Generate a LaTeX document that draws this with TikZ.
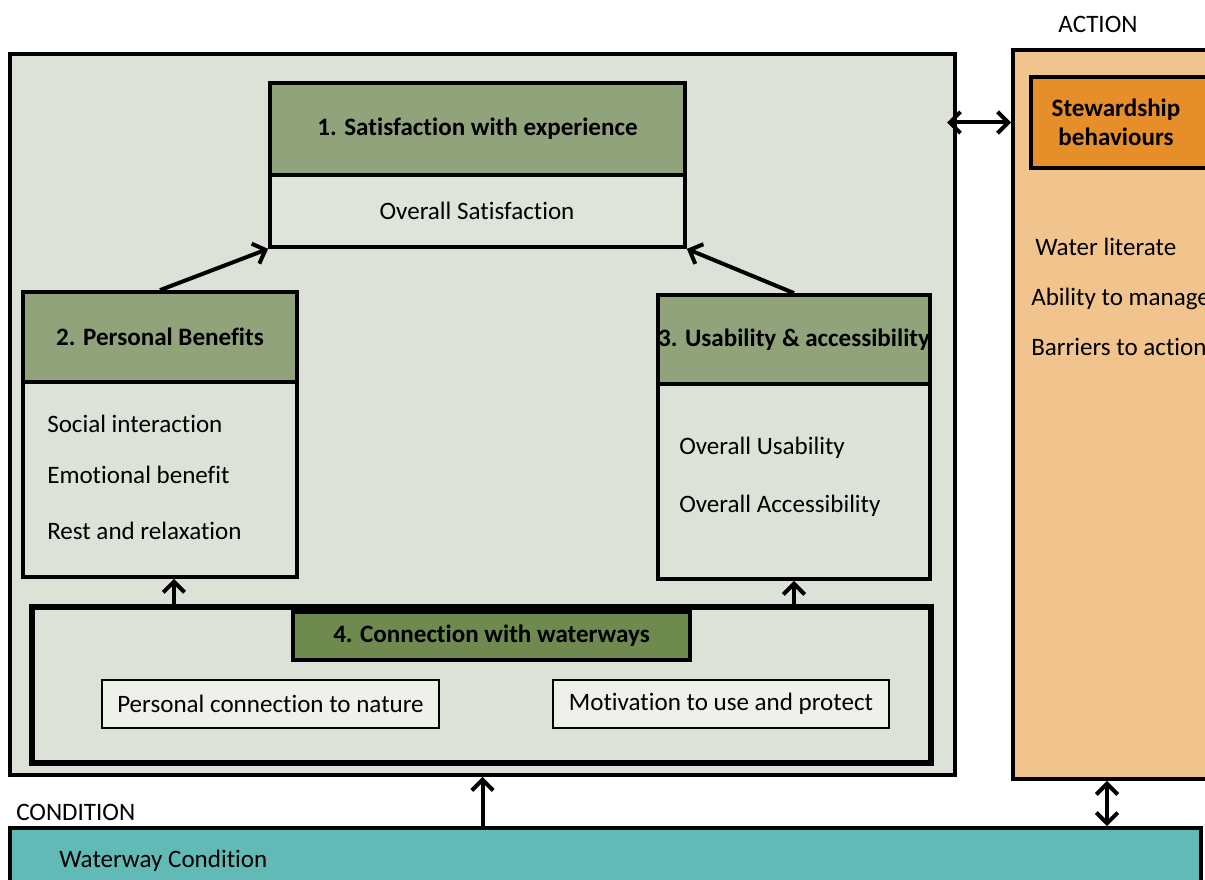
\documentclass[tikz,border=0pt]{standalone}
\usepackage{fontspec}
\setmainfont{Carlito}[Ligatures={NoCommon}]
\usetikzlibrary{fit,arrows.meta,calc}
\definecolor{panel}{HTML}{DCE2D7}
\definecolor{olive}{HTML}{91A37A}
\definecolor{darkolive}{HTML}{6E8A4F}
\definecolor{bodyfill}{HTML}{DFE4DB}
\definecolor{innerfill}{HTML}{EEF0EA}
\definecolor{actionfill}{HTML}{F0C48C}
\definecolor{stewfill}{HTML}{E68F2A}
\definecolor{condfill}{HTML}{62BAB6}
\tikzset{
  frame/.style={draw, line width=2.8pt, inner sep=0pt, rectangle},
  thin frame/.style={draw, line width=1.3pt, inner sep=0pt, rectangle},
  txt/.style={font=\fontsize{18.8}{22}\selectfont, inner sep=0pt},
  ttl/.style={font=\fontsize{18.8}{22}\selectfont\bfseries, inner sep=0pt},
  arr/.style={line width=3pt, -{Straight Barb[length=8pt,width=16pt]}},
  darr/.style={line width=3pt, {Straight Barb[length=8pt,width=16pt]}-{Straight Barb[length=8pt,width=16pt]}}
}
\begin{document}
\begin{tikzpicture}[x=0.75pt,y=-0.75pt]
\useasboundingbox (0,0) rectangle (1205,880);
\clip (0,0) rectangle (1205,880);
\fill[white] (0,0) rectangle (1205,880);
% main panel
\node[frame, fill=panel, fit={(10,54) (955,775)}] (main) {};
% action
\node[frame, fill=actionfill, fit={(1013,50) (1230,779)}] (action) {};
\node[frame, fill=stewfill, fit={(1031,77) (1230,168)}] (stew) {};
\node[ttl, align=center] (stewt) at (1116,122) {Stewardship\\behaviours};
\node[txt] (action label) at (1098,24) {ACTION};
\node[txt, anchor=west] (a1) at (1035,247) {Water literate};
\node[txt, anchor=west] (a2) at (1031,299) {Ability to manage};
\node[txt, anchor=west] (a3) at (1031,347) {Barriers to action};
% condition
\node[frame, fill=condfill, fit={(10,828) (1201,900)}] (cond) {};
\node[txt, anchor=west] (condlabel) at (16,812) {CONDITION};
\node[txt, anchor=west] (c1) at (59,861) {Waterway Condition};
% box 1
\node[frame, fill=olive, fit={(270,83) (685,175)}] (b1h) {};
\node[frame, fill=bodyfill, fit={(270,175) (685,247)}] (b1b) {};
\node[ttl] (b1t) at (b1h.center) {1. Satisfaction with experience};
\node[txt] (b1x) at (477,211) {Overall Satisfaction};
% box 2
\node[frame, fill=olive, fit={(23,292) (297,382)}] (b2h) {};
\node[frame, fill=panel, fit={(23,382) (297,577)}] (b2b) {};
\node[ttl] (b2t) at (b2h.center) {2. Personal Benefits};
\node[txt, anchor=west] (b2x1) at (47,424) {Social interaction};
\node[txt, anchor=west] (b2x2) at (47,475) {Emotional benefit};
\node[txt, anchor=west] (b2x3) at (47,531) {Rest and relaxation};
% box 3
\node[frame, fill=olive, fit={(658,295) (930,384)}] (b3h) {};
\node[frame, fill=panel, fit={(658,384) (930,579)}] (b3b) {};
\node[ttl] (b3t) at (b3h.center) {3. Usability \& accessibility};
\node[txt, anchor=west] (b3x1) at (679,448) {Overall Usability};
\node[txt, anchor=west] (b3x2) at (679,506) {Overall Accessibility};
% box 4
\node[draw, line width=3.8pt, inner sep=0pt, fill=panel, fit={(32,607) (931,763)}] (b4) {};
\node[frame, fill=darkolive, fit={(293,612) (690,660)}] (b4h) {};
\node[ttl] (b4t) at (b4h.center) {4. Connection with waterways};
\node[thin frame, fill=innerfill, fit={(102,680) (439,728)}] (p1) {};
\node[txt] (p1t) at (p1.center) {Personal connection to nature};
\node[thin frame, fill=innerfill, fit={(553,680) (889,728)}] (p2) {};
\node[txt] (p2t) at (p2.center) {Motivation to use and protect};
% connectors
\draw[arr] (b2h.north) -- (b1b.south west);
\draw[arr] (b3h.north) -- (b1b.south east);
\coordinate (b2in) at ($(b2b.south west)!0.55!(b2b.south east)$);
\draw[arr] (b4.north -| b2in) -- (b2in);
\draw[arr] (b4.north -| b3b.south) -- (b3b.south);
\draw[arr] (cond.north -| main.south) -- (main.south);
\coordinate (hstart) at (947,0);
\draw[darr] (hstart |- stew.west) -- (action.west |- stew.west);
\coordinate (vx) at (1107,0);
\draw[darr] (action.south -| vx) -- (cond.north -| vx);
\end{tikzpicture}
\end{document}
